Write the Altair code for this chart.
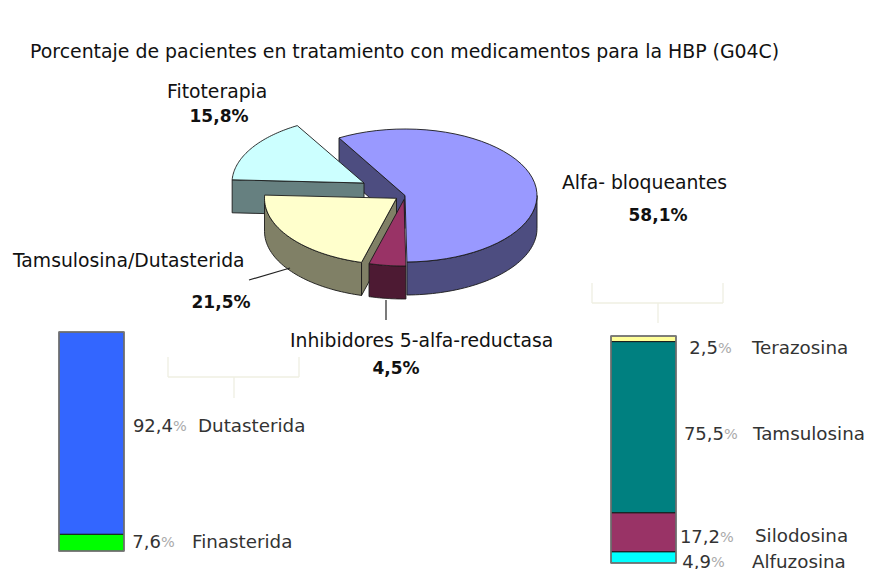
import math
import altair as alt
import pandas as pd

# ---- data ----
pie_names = ["Alfa- bloqueantes", "Inhibidores 5-alfa-reductasa", "Tamsulosina/Dutasterida", "Fitoterapia"]
pie_values = [58.1, 4.5, 21.5, 15.8]
pie_top = ["#9999FF", "#993366", "#FFFFCC", "#CCFFFF"]
pie_side = ["#4D4D80", "#4D1A33", "#808066", "#668080"]

left_names = ["Dutasterida", "Finasterida"]
left_values = [92.4, 7.6]
left_colors = ["#3366FF", "#00FF00"]

right_names = ["Terazosina", "Tamsulosina", "Silodosina", "Alfuzosina"]
right_values = [2.5, 75.5, 17.2, 4.9]
right_colors = ["#FFFF99", "#008080", "#993366", "#00FFFF"]

# ---- layout (page pixels) ----
X = alt.Scale(domain=[8, 871])
Y = alt.Scale(domain=[8, 569], reverse=True)
W, H = 863, 561
FONT = "DejaVu Sans"
centers = [(405, 195.5), (404, 199.5), (396.5, 198.3), (364, 183)]
RX, RY, DEPTH = 132, 66.5, 33
START = 120.0

def xenc(f="x"):
    return alt.X(f"{f}:Q", scale=X, axis=None)
def yenc(f="y"):
    return alt.Y(f"{f}:Q", scale=Y, axis=None)

def poly(points, fill):
    df = pd.DataFrame(points, columns=["x", "y"])
    df["i"] = range(len(df))
    return alt.Chart(df).mark_line(
        fill=fill, stroke="#1a1a1a", strokeWidth=0.9, interpolate="linear-closed", strokeJoin="round"
    ).encode(x=xenc(), y=yenc(), order="i:Q")

def ell(c, deg, dz=0):
    a = math.radians(deg)
    return (c[0] + RX * math.cos(a), c[1] - RY * math.sin(a) + dz)

def arc(c, a0, a1, dz=0, n=48):
    return [ell(c, a0 + (a1 - a0) * k / n, dz) for k in range(n + 1)]

def face(c, deg, fill):
    q = ell(c, deg)
    return poly([q, c, (c[0], c[1] + DEPTH), (q[0], q[1] + DEPTH)], fill)

# wedge angles, clockwise from START
angles = []
cur = START
for v in pie_values:
    nxt = cur - v * 3.6
    angles.append((cur, nxt))
    cur = nxt

layers = []
# Alfa back cut face, behind everything
layers.append(face(centers[0], angles[0][0], pie_side[0]))
# Fitoterapia
layers.append(face(centers[3], angles[3][0], pie_side[3]))
layers.append(poly([centers[3]] + arc(centers[3], *angles[3]), pie_top[3]))
# Alfa
layers.append(poly(arc(centers[0], 0, angles[0][1]) + arc(centers[0], angles[0][1], 0, DEPTH), pie_side[0]))
layers.append(poly([centers[0]] + arc(centers[0], *angles[0]), pie_top[0]))
# Tamsulosina/Dutasterida
layers.append(poly(arc(centers[2], angles[2][0], -180) + arc(centers[2], -180, angles[2][0], DEPTH), pie_side[2]))
layers.append(face(centers[2], angles[2][0], pie_side[2]))
layers.append(poly([centers[2]] + arc(centers[2], *angles[2]), pie_top[2]))
# Inhibidores
layers.append(poly(arc(centers[1], *angles[1]) + arc(centers[1], angles[1][1], angles[1][0], DEPTH), pie_side[1]))
layers.append(poly([centers[1]] + arc(centers[1], *angles[1]), pie_top[1]))

# ---- stacked bars ----
def stacked(values, colors, x0, x1, top, bottom):
    rows = []
    cum = 0
    total = sum(values)
    for v, col in zip(values, colors):
        rows.append(dict(x=x0, x2=x1, y=top + cum / total * (bottom - top),
                         y2=top + (cum + v) / total * (bottom - top), c=col))
        cum += v
    df = pd.DataFrame(rows)
    seg = alt.Chart(df).mark_rect(stroke="#1a1a1a", strokeWidth=1).encode(
        x=xenc(), x2="x2:Q", y=yenc(), y2="y2:Q",
        fill=alt.Fill("c:N", scale=None))
    frame = alt.Chart(pd.DataFrame([dict(x=x0, x2=x1, y=top, y2=bottom)])).mark_rect(
        fill=None, stroke="#7a7a7a", strokeWidth=1.5).encode(
        x=xenc(), x2="x2:Q", y=yenc(), y2="y2:Q")
    return [seg, frame]

layers += stacked(left_values, left_colors, 59, 124, 332, 551)
layers += stacked(right_values, right_colors, 611, 676, 336, 563)

# ---- brackets and leaders ----
def segs(rows, color, width):
    df = pd.DataFrame(rows, columns=["x", "y", "x2", "y2"])
    return alt.Chart(df).mark_rule(color=color, strokeWidth=width).encode(
        x=xenc(), y=yenc(), x2="x2:Q", y2="y2:Q")

PALE = "#EFEFE2"
layers.append(segs([(592, 283, 592, 303), (723, 283, 723, 303), (592, 303, 723, 303), (658, 303, 658, 323),
                    (168, 357, 168, 377), (299, 357, 299, 377), (168, 377, 299, 377), (234, 377, 234, 398)], PALE, 1.3))
layers.append(segs([(249, 280, 290, 268), (386, 300, 386, 320)], "#222222", 1.2))

# ---- texts ----
def texts(rows, color, size, align="left", bold=False, opacity=1):
    df = pd.DataFrame(rows, columns=["x", "y", "t"])
    df["y"] = df["y"] + 1.5
    return alt.Chart(df).mark_text(align=align, baseline="middle", font=FONT, fontSize=size, color=color,
                                   fontWeight="bold" if bold else "normal", opacity=opacity).encode(
        x=xenc(), y=yenc(), text="t:N")

layers.append(texts([(30, 50, "Porcentaje de pacientes en tratamiento con medicamentos para la HBP (G04C)")], "#111111", 18.9))
layers.append(texts([(562, 181, pie_names[0]), (290, 339, pie_names[1]), (13, 259, pie_names[2]), (167, 90, pie_names[3])], "#111111", 18.8))
layers.append(texts([(658, 214, "58,1%"), (396, 367, "4,5%"), (221, 301, "21,5%"), (219, 115, "15,8%")], "#111111", 17, "center", True))
layers.append(texts([(198, 425, left_names[0]), (192, 541, left_names[1]),
                     (752, 347, right_names[0]), (753, 433, right_names[1]),
                     (755, 535, right_names[2]), (752, 561, right_names[3])], "#333333", 18.3))
def fmt(v):
    return f"{v:.1f}".replace(".", ",")
nums = [(173, 425, fmt(left_values[0])), (161, 541, fmt(left_values[1])),
        (718, 347, fmt(right_values[0])), (724, 433, fmt(right_values[1])),
        (720, 536, fmt(right_values[2])), (711, 561, fmt(right_values[3]))]
layers.append(texts(nums, "#333333", 18, "right"))
layers.append(texts([(x, y, "%") for x, y, _ in nums], "#AAAAAA", 14.5))

chart = alt.layer(*layers).properties(width=W, height=H, padding=0, autosize=alt.AutoSizeParams(type="none"),
                                      background="white").configure_view(stroke=None)
chart.save("out.html", embed_options={"renderer": "svg", "actions": False})
